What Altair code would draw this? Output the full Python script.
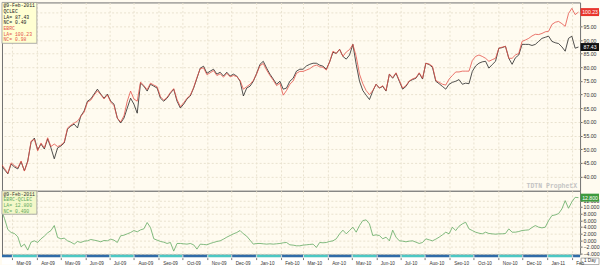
import altair as alt
import pandas as pd

# ---------------- data ----------------
as_of = "@9-Feb-2011"
sym_wti = "QCLEC"
sym_brent = "EBRC"
sym_spread = "EBRC-QCLEC"
nc_wti = "0.49"
nc_brent = "0.98"
nc_spread = "0.490"
first_date = "2009-02-15T12:00:00"
last_date = "2011-02-09T12:00:00"

wti = [
    44.3, 42.5, 41.0, 44.6, 43.5, 42.8, 45.4, 42.1, 45.7, 52.5,
    54.1, 49.8, 51.9, 50.1, 53.8, 50.5, 46.5, 50.5, 51.2, 52.3,
    57.4, 58.5, 59.2, 57.8, 62.2, 64.0, 67.6, 68.4, 70.2, 72.0,
    70.2, 68.7, 70.2, 67.6, 66.5, 61.4, 59.6, 61.4, 65.1, 68.7,
    66.5, 63.2, 74.2, 73.1, 71.3, 73.8, 73.1, 72.4, 68.7, 67.6,
    68.7, 70.5, 72.0, 67.6, 65.1, 66.5, 68.4, 69.5, 72.4, 76.0,
    79.7, 80.4, 77.8, 78.6, 79.3, 77.5, 78.2, 76.8, 78.2, 76.8,
    77.5, 76.8, 74.9, 69.5, 72.4, 73.1, 74.9, 77.8, 81.1, 82.2,
    79.7, 77.5, 75.7, 73.8, 74.9, 72.0, 72.4, 74.9, 76.0, 78.6,
    79.3, 79.3, 80.5, 81.1, 81.5, 81.5, 80.8, 80.4, 79.3, 82.0,
    85.5, 85.1, 86.6, 84.0, 83.0, 84.5, 88.4, 81.1, 74.9, 71.5,
    69.8, 68.2, 71.3, 73.8, 72.4, 73.0, 71.3, 77.5, 76.0, 77.8,
    74.9, 72.0, 73.0, 74.9, 75.5, 76.0, 77.8, 75.7, 81.5, 81.0,
    80.0, 74.9, 74.0, 73.0, 72.0, 73.8, 74.5, 74.9, 75.5, 73.8,
    74.2, 74.0, 78.5, 80.5, 81.5, 82.0, 82.2, 79.7, 81.0, 82.2,
    87.0, 87.2, 87.7, 83.3, 81.1, 83.5, 84.5, 88.4, 88.4, 88.4,
    88.0, 88.4, 89.5, 90.6, 91.0, 91.4, 89.5, 89.0, 88.7, 87.5,
    85.9, 90.6, 91.4, 87.0, 87.43,
]

brent = [
    44.6, 43.0, 41.2, 45.0, 44.0, 43.2, 45.7, 42.0, 45.4, 53.0,
    53.6, 49.4, 52.3, 50.5, 54.2, 51.0, 51.9, 51.0, 51.5, 52.6,
    57.8, 58.8, 59.6, 60.3, 62.0, 63.6, 67.2, 68.0, 69.8, 71.4,
    70.0, 68.4, 69.9, 67.3, 66.0, 61.4, 60.0, 62.2, 67.6, 71.3,
    68.4, 67.6, 74.6, 73.3, 71.8, 74.2, 73.5, 72.9, 69.2, 68.0,
    69.0, 70.8, 72.2, 68.2, 65.6, 67.0, 68.7, 69.8, 72.6, 76.3,
    79.5, 79.8, 77.3, 78.0, 78.8, 77.0, 77.6, 76.4, 77.8, 76.5,
    77.0, 76.6, 75.2, 72.0, 72.9, 73.8, 75.2, 77.6, 80.6, 81.4,
    79.0, 77.0, 75.3, 73.3, 74.2, 69.8, 71.5, 73.8, 75.0, 77.8,
    78.5, 78.5, 79.0, 79.5, 80.4, 80.8, 80.2, 80.0, 79.0, 82.0,
    85.9, 85.1, 86.6, 84.0, 85.6, 86.5, 88.4, 84.0, 77.5, 74.0,
    71.5, 70.0, 71.5, 73.8, 72.4, 73.3, 71.5, 77.5, 76.3, 78.0,
    75.2, 72.4, 73.3, 75.0, 75.8, 76.2, 78.0, 76.0, 81.5, 81.2,
    80.4, 75.2, 74.5, 73.8, 73.5, 75.7, 77.0, 78.3, 78.3, 78.6,
    78.6, 78.6, 82.5, 84.0, 84.5, 84.0, 83.3, 82.2, 82.8, 83.3,
    87.0, 87.4, 87.7, 83.3, 83.3, 84.5, 85.1, 89.5, 90.0, 90.6,
    91.5, 92.1, 92.0, 92.4, 93.0, 93.2, 95.7, 96.5, 96.8, 96.0,
    95.0, 99.7, 101.6, 99.3, 100.23,
]

spread = [
    9.2, 6.5, 3.2, 2.3, 2.0, 1.0, -2.0, -1.2, -3.0, -0.6,
    -0.2, -0.7, 0.4, 1.2, 2.2, 2.9, 4.4, 0.8, 0.4, 0.6,
    -0.2, -0.6, -1.2, -0.4, -0.7, -0.3, -0.2, 0.2, 0.0, -0.2,
    -0.5, -0.1, -0.2, 0.3, 0.0, -0.7, 1.3, 1.5, 1.9, 2.3,
    2.9, 2.5, 3.1, 3.4, 5.3, 3.8, 0.4, 0.0, -0.4, -0.6,
    -1.0, -0.7, -3.3, -1.0, -1.0, -1.1, -1.2, -1.0, -1.4, -2.7,
    -1.2, -1.3, -1.4, -1.0, -0.7, -0.4, -0.2, 0.3, 0.9, 1.4,
    1.9, 2.3, 2.9, 1.9, 1.2, 0.0, -1.2, -1.0, -1.0, -1.1,
    -1.2, -1.1, -1.2, -1.1, -1.0, -0.8, -0.7, -1.4, -1.5, -1.7,
    -1.7, -1.5, -1.4, -1.3, -1.2, -2.2, -0.7, -0.8, -0.7, -0.4,
    -0.2, 0.4, 1.9, 3.0, 1.9, 2.9, 3.9, 2.4, 4.4, 5.9,
    6.1, 4.9, 1.4, 1.6, 1.4, 0.4, 0.9, -0.2, 3.0, 0.9,
    -0.2, -0.3, -0.5, -0.3, -0.2, -0.6, -1.0, -0.7, 0.4, 0.1,
    -0.2, 0.3, 0.9, 1.6, 2.4, 1.9, 3.9, 2.9, 4.2, 4.9,
    5.4, 3.4, 2.9, 2.4, 2.1, 1.9, 2.4, 2.0, 1.9, 1.8,
    1.9, 1.9, 2.0, 3.4, 2.4, 2.4, 2.6, 2.9, 3.0, 3.1,
    3.8, 4.4, 3.9, 3.7, 3.9, 5.9, 7.4, 7.6, 8.0, 9.4,
    11.9, 9.6, 11.5, 12.9, 12.8,
]

month_starts = [
    "2009-02-01", "2009-03-01", "2009-04-01", "2009-05-01", "2009-06-01",
    "2009-07-01", "2009-08-01", "2009-09-01", "2009-10-01", "2009-11-01",
    "2009-12-01", "2010-01-01", "2010-02-01", "2010-03-01", "2010-04-01",
    "2010-05-01", "2010-06-01", "2010-07-01", "2010-08-01", "2010-09-01",
    "2010-10-01", "2010-11-01", "2010-12-01", "2011-01-01", "2011-02-01",
    "2011-03-01",
]

top_ticks = [40, 45, 50, 55, 60, 65, 70, 75, 80, 85, 90, 95, 100]
bottom_ticks = [-4, -2, 0, 2, 4, 6, 8, 10, 12]

# ---------------- styling ----------------
BG = "#FFFBF0"
GRID = "#E9E2CF"
BLACK = "#262626"
RED = "#E5534A"
GREEN = "#62AA62"
FONT = "Liberation Sans"
MONO = "Liberation Mono"
W = 580
H_TOP = 189
H_BOT = 64
H_STRIP = 3
AX_FS = 5.2

dates = pd.date_range(first_date, last_date, periods=len(wti))
df = pd.DataFrame({"date": dates, "wti": wti, "brent": brent, "spread": spread})

xscale = alt.Scale(domain=[alt.DateTime(year=2009, month=2, date=16, hours=12),
                           alt.DateTime(year=2011, month=2, date=11, hours=12)])
xaxis_grid = alt.Axis(grid=True, labels=False, ticks=False, domain=False, title=None,
                      tickCount="month", gridColor=GRID, gridDash=[2, 2], gridWidth=1)

yscale_top = alt.Scale(domain=[34.78, 103.76], nice=False, zero=False)
yscale_bot = alt.Scale(domain=[-4.35, 14.86], nice=False, zero=False)

yaxis_top = alt.Axis(orient="right", values=top_ticks, format=".2f", tickSize=2,
                     labelPadding=1, domain=False, grid=True, gridColor=GRID,
                     gridDash=[2, 2], title=None, labelOverlap=False,
                     labelFontSize=AX_FS, labelBound=False)
yaxis_bot = alt.Axis(orient="right", values=bottom_ticks, format=".3f", tickSize=2,
                     labelPadding=1, domain=False, grid=True, gridColor=GRID,
                     gridDash=[2, 2], title=None, labelOverlap=False,
                     labelFontSize=AX_FS, labelBound=False)

one = pd.DataFrame({"a": [0]})


def legend_layers(lines, box_h, fill):
    layers = [alt.Chart(one).mark_rect(fill=fill, stroke="#9a9a9a", strokeWidth=0.8).encode(
        x=alt.value(0), x2=alt.value(35), y=alt.value(0), y2=alt.value(box_h))]
    for i, (txt, col) in enumerate(lines):
        layers.append(alt.Chart(one).mark_text(
            font=MONO, fontSize=4.8, align="left", baseline="top", color=col).encode(
            x=alt.value(1.5), y=alt.value(0.8 + i * 5.7), text=alt.value(txt)))
    return layers


def last_box(value, label, scale, axis, fill):
    d = pd.DataFrame({"v": [value], "label": [label]})
    box = alt.Chart(d).mark_rect(fill=fill, yOffset=-4, y2Offset=4, clip=False).encode(
        x=alt.value(580.5), x2=alt.value(599), y=alt.Y("v:Q", scale=scale, axis=axis),
        y2="v:Q")
    txt = alt.Chart(d).mark_text(font=FONT, fontSize=AX_FS, color="white", align="center",
                                 baseline="middle", clip=False).encode(
        x=alt.value(590), y=alt.Y("v:Q", scale=scale, axis=axis), text="label:N")
    return [box, txt]


# ---------------- top panel ----------------
base = alt.Chart(df)
line_wti = base.mark_line(color=BLACK, strokeWidth=0.8, clip=True).encode(
    x=alt.X("date:T", scale=xscale, axis=xaxis_grid),
    y=alt.Y("wti:Q", scale=yscale_top, axis=yaxis_top),
)
line_brent = base.mark_line(color=RED, strokeWidth=0.8, clip=True).encode(
    x=alt.X("date:T", scale=xscale, axis=xaxis_grid),
    y=alt.Y("brent:Q", scale=yscale_top, axis=yaxis_top),
)
watermark = alt.Chart(one).mark_text(font=MONO, fontSize=6.5, color="#C4C4C4",
                                     fontWeight="bold", align="right",
                                     baseline="middle").encode(
    x=alt.value(577), y=alt.value(184), text=alt.value("TDTN ProphetX"))

top_lines = [
    (as_of, "#222222"),
    (sym_wti, "#222222"),
    (f"LA= {wti[-1]:.2f}", "#222222"),
    (f"NC= {nc_wti}", "#222222"),
    (sym_brent, RED),
    (f"LA= {brent[-1]:.2f}", RED),
    (f"NC= {nc_brent}", RED),
]

top = alt.layer(
    line_wti, line_brent, watermark,
    *last_box(wti[-1], f"{wti[-1]:.2f}", yscale_top, yaxis_top, "#111111"),
    *last_box(brent[-1], f"{brent[-1]:.2f}", yscale_top, yaxis_top, "#E8352C"),
    *legend_layers(top_lines, 41, "#FFFFD2"),
).properties(width=W, height=H_TOP)

# ---------------- bottom panel ----------------
line_spread = base.mark_line(color=GREEN, strokeWidth=0.8, clip=True).encode(
    x=alt.X("date:T", scale=xscale, axis=xaxis_grid),
    y=alt.Y("spread:Q", scale=yscale_bot, axis=yaxis_bot),
)
bot_lines = [
    (as_of, "#333333"),
    (sym_spread, GREEN),
    (f"LA= {spread[-1]:.3f}", GREEN),
    (f"NC= {nc_spread}", GREEN),
]
bottom = alt.layer(
    line_spread,
    *last_box(spread[-1], f"{spread[-1]:.3f}", yscale_bot, yaxis_bot, "#3E9A3E"),
    *legend_layers(bot_lines, 23.5, "#F3F8C9"),
).properties(width=W, height=H_BOT)

# ---------------- date strip + axis ----------------
mdf = pd.DataFrame({
    "start": [m + "T00:00:00" for m in month_starts[:-1]],
    "end": [m + "T00:00:00" for m in month_starts[1:]],
    "parity": [i % 2 for i in range(len(month_starts) - 1)],
})
date_axis = alt.Axis(format="%b-%y", tickCount="month", labelFontSize=4.6, labelFont=FONT,
                     labelAlign="left", labelOffset=4, labelFlush=False, tickSize=2,
                     labelPadding=0.5, domain=False, title=None, zindex=1,
                     labelColor="#333333", tickColor="#777777", labelOverlap=False,
                     labelExpr="(year(datum.value) == 2011 && month(datum.value) == 1) ? 'Feb' : timeFormat(datum.value, '%b-%y')")
label_bg = alt.Chart(one).mark_rect(fill="white", clip=False).encode(
    x=alt.value(0), x2=alt.value(580), y=alt.value(3), y2=alt.value(10))
strip_rects = alt.Chart(mdf).mark_rect(clip=True).encode(
    x=alt.X("start:T", scale=xscale, axis=date_axis),
    x2="end:T",
    y=alt.value(0), y2=alt.value(3),
    color=alt.Color("parity:N", scale=alt.Scale(domain=[0, 1], range=["#2F6CA8", "#4CC7C4"]),
                    legend=None),
)
day_box = alt.Chart(one).mark_rect(fill="white", stroke="#8a8a8a", strokeWidth=0.7,
                                   clip=False).encode(
    x=alt.value(581), x2=alt.value(599), y=alt.value(3.5), y2=alt.value(10))
day_text = alt.Chart(one).mark_text(font=FONT, fontSize=4.6, color="#333333",
                                    align="center", baseline="middle", clip=False).encode(
    x=alt.value(590), y=alt.value(6.8), text=alt.value("1 Day"))
strip = alt.layer(label_bg, strip_rects, day_box, day_text).properties(
    width=W, height=H_STRIP, view=alt.ViewBackground(strokeOpacity=0))

chart = alt.vconcat(top, bottom, strip, spacing=0, bounds="flush").properties(
    padding={"left": 1, "top": 1, "right": 0, "bottom": 0},
    background=BG,
).configure_view(
    stroke="#707070", strokeWidth=1, fill=BG,
).configure_axis(
    labelFont=FONT, labelColor="#333333", tickColor="#666666",
)

chart.save("out.html", embed_options={"renderer": "svg", "actions": False})
